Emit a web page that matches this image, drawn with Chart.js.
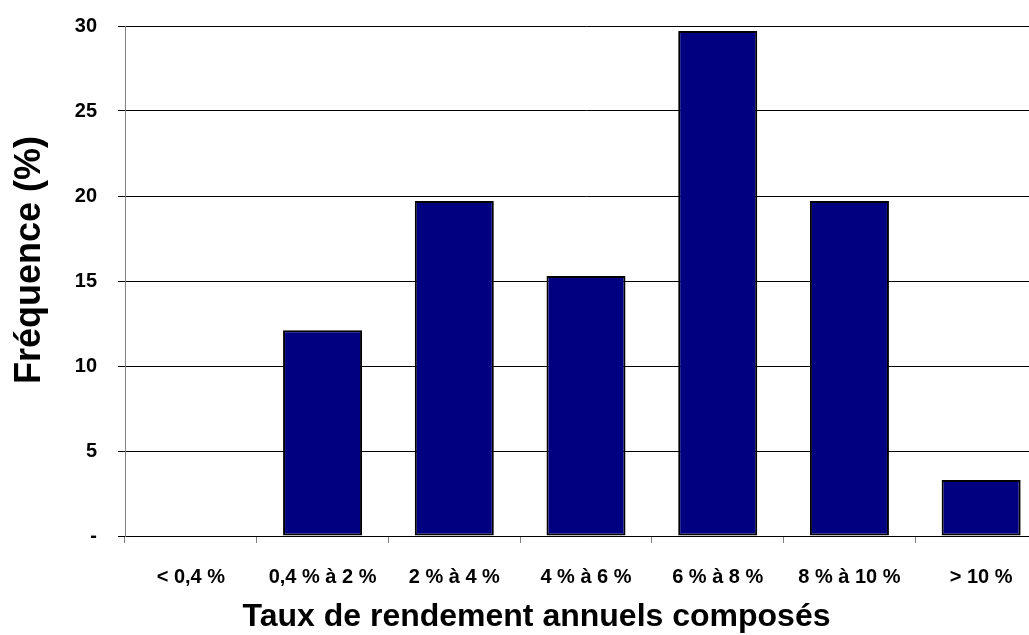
<!DOCTYPE html>
<html lang="fr">
<head>
<meta charset="utf-8">
<title>Fréquence des taux de rendement annuels composés</title>
<script src="https://cdn.jsdelivr.net/npm/chart.js@4/dist/chart.umd.min.js"></script>
<style>
  html, body { margin: 0; padding: 0; background: #fff; overflow: hidden; }
  #wrap { position: relative; width: 1048px; height: 635px; }
</style>
</head>
<body>
<div id="wrap"><canvas id="chart"></canvas></div>
<script>
// Rate-of-return buckets and share of observations (%) in each
const categories = ['< 0,4 %', '0,4 % à 2 %', '2 % à 4 %', '4 % à 6 %', '6 % à 8 %', '8 % à 10 %', '> 10 %'];
const frequencies = [0, 12.1, 19.7, 15.3, 29.7, 19.7, 3.3];
// Y-axis tick labels for 0, 5, 10, ... 30 (zero shown as a dash)
const yTickLabels = ['-', '5', '10', '15', '20', '25', '30'];
const yAxisTitle = 'Fréquence (%)';
const xAxisTitle = 'Taux de rendement annuels composés';

const FONT = '"Liberation Sans", Arial, sans-serif';

// Rotated value-axis title, set a little above the middle of the plot
const yTitlePlugin = {
  id: 'yTitle',
  afterDraw(chart) {
    const { ctx, chartArea } = chart;
    ctx.save();
    ctx.translate(30, (chartArea.top + chartArea.bottom) / 2 - 21);
    ctx.rotate(-Math.PI / 2);
    ctx.font = 'bold 36px ' + FONT;
    ctx.fillStyle = '#000';
    ctx.textAlign = 'center';
    ctx.textBaseline = 'middle';
    ctx.fillText(yAxisTitle, 0, 0);
    ctx.restore();
  }
};

new Chart(document.getElementById('chart'), {
  type: 'bar',
  data: {
    labels: categories,
    datasets: [{
      data: frequencies,
      backgroundColor: '#000080',
      borderColor: '#000000',
      borderWidth: 2,
      borderSkipped: false,
      categoryPercentage: 1,
      barPercentage: 0.6
    }]
  },
  plugins: [yTitlePlugin],
  options: {
    responsive: true,
    maintainAspectRatio: false,
    animation: false,
    layout: { padding: { top: 26, right: 1, bottom: 0, left: 26 } },
    plugins: {
      legend: { display: false },
      tooltip: { enabled: false },
      title: {
        display: true,
        position: 'bottom',
        text: xAxisTitle,
        color: '#000',
        font: { family: FONT, size: 32, weight: 'bold', lineHeight: 1 },
        padding: { top: 0, bottom: 2 }
      }
    },
    scales: {
      x: {
        offset: true,
        grid: { offset: true, drawOnChartArea: false, drawTicks: true, tickLength: 7, color: '#808080' },
        border: { display: true, color: '#000000', width: 1 },
        ticks: { color: '#000', padding: 22, font: { family: FONT, size: 20, weight: 'bold' } },
        afterFit: (scale) => { scale.height = 65; }
      },
      y: {
        min: 0,
        max: 30,
        ticks: {
          stepSize: 5,
          color: '#000',
          padding: 21,
          font: { family: FONT, size: 20, weight: 'bold', lineHeight: 0.4 },
          callback: (v) => yTickLabels[Math.round(v / 5)]
        },
        grid: { color: '#000000', lineWidth: 1, tickLength: 7, drawTicks: true },
        border: { display: true, color: '#808080', width: 1 },
        afterFit: (scale) => { scale.width = 99; }
      }
    }
  }
});
</script>
</body>
</html>
